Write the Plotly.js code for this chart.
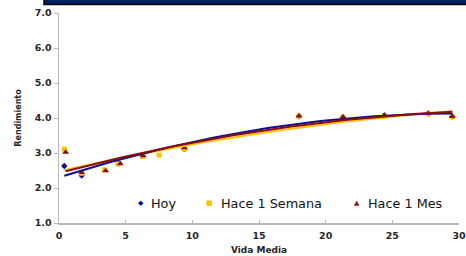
<!DOCTYPE html>
<html><head><meta charset="utf-8">
<script src="https://cdn.plot.ly/plotly-3.0.1.min.js"></script>
<style>body{margin:0;background:#fff}#c{width:466px;height:256px}</style>
</head><body><div id="c"></div>
<script>
const seriesNames = ['Hoy', 'Hace 1 Semana', 'Hace 1 Mes'];
const hoyX = [0.4, 1.7, 4.5, 6.3, 9.4, 18.0, 21.3, 24.4, 27.7, 29.5];
const hoyY = [2.63, 2.36, 2.71, 2.92, 3.12, 4.05, 4.02, 4.07, 4.13, 4.04];
const semanaX = [0.4, 1.7, 3.4, 4.4, 6.3, 7.5, 9.4, 18.0, 21.3, 24.4, 27.7, 29.5];
const semanaY = [3.11, 2.42, 2.52, 2.69, 2.90, 2.94, 3.11, 4.05, 4.02, 4.05, 4.12, 4.03];
const mesX = [0.5, 1.7, 3.5, 4.6, 6.3, 9.4, 18.0, 21.3, 24.4, 27.7, 29.5];
const mesY = [3.02, 2.44, 2.49, 2.69, 2.92, 3.15, 4.06, 4.03, 4.08, 4.13, 4.04];
const yTicks = [1, 2, 3, 4, 5, 6, 7];
const xTicks = [0, 5, 10, 15, 20, 25, 30];

// quadratic least-squares trendline (spreadsheet "polynomial, order 2")
function polyFit2(xs, ys) {
  let S = [0,0,0,0,0], T = [0,0,0];
  for (let i = 0; i < xs.length; i++) {
    let p = 1;
    for (let k = 0; k < 5; k++) { S[k] += p; if (k < 3) T[k] += p * ys[i]; p *= xs[i]; }
  }
  const A = [[S[0],S[1],S[2],T[0]],[S[1],S[2],S[3],T[1]],[S[2],S[3],S[4],T[2]]];
  for (let c = 0; c < 3; c++) {
    for (let r = c+1; r < 3; r++) { const f = A[r][c]/A[c][c]; for (let k = c; k < 4; k++) A[r][k] -= f*A[c][k]; }
  }
  const b = [0,0,0];
  for (let r = 2; r >= 0; r--) { let s = A[r][3]; for (let k = r+1; k < 3; k++) s -= A[r][k]*b[k]; b[r] = s/A[r][r]; }
  return b;
}
function trend(xs, ys) {
  const b = polyFit2(xs, ys);
  const x0 = Math.min(...xs), x1 = Math.max(...xs);
  const tx = [], ty = [];
  for (let i = 0; i <= 60; i++) { const x = x0 + (x1-x0)*i/60; tx.push(x); ty.push(b[0]+b[1]*x+b[2]*x*x); }
  return {x: tx, y: ty};
}

const cBlue = '#10108c', cYellow = '#ffc000', cRed = '#8b0d0d';
const tS = trend(semanaX, semanaY), tH = trend(hoyX, hoyY), tM = trend(mesX, mesY);
const data = [
  {x: hoyX, y: hoyY, name: seriesNames[0], mode: 'markers', marker: {symbol: 'diamond', size: 5, color: cBlue}, showlegend: false},
  {x: semanaX, y: semanaY, name: seriesNames[1], mode: 'markers', marker: {symbol: 'square', size: 5, color: cYellow}, showlegend: false},
  {x: mesX, y: mesY, name: seriesNames[2], mode: 'markers', marker: {symbol: 'triangle-up', size: 6, color: cRed}, showlegend: false},
  {x: tS.x, y: tS.y, mode: 'lines', line: {color: cYellow, width: 2}, showlegend: false, hoverinfo: 'skip'},
  {x: tH.x, y: tH.y, mode: 'lines', line: {color: cBlue, width: 2}, showlegend: false, hoverinfo: 'skip'},
  {x: tM.x, y: tM.y, mode: 'lines', line: {color: cRed, width: 2}, showlegend: false, hoverinfo: 'skip'}
];

// legend drawn as text (glyph + label)
const legGlyphs = ['\u25C6', '\u25A0', '\u25B2'];
const legColors = [cBlue, cYellow, cRed];
const legMarkX = [0.205, 0.375, 0.745];
const legTextX = [0.225, 0.4, 0.767];
const legY = 0.095;
const annotations = [];
for (let i = 0; i < 3; i++) {
  annotations.push({xref: 'paper', yref: 'paper', x: legMarkX[i], y: legY, xanchor: 'center', yanchor: 'middle',
    text: legGlyphs[i], showarrow: false, font: {family: 'DejaVu Sans', size: 7, color: legColors[i]}});
  annotations.push({xref: 'paper', yref: 'paper', x: legTextX[i], y: legY, xanchor: 'left', yanchor: 'middle',
    text: seriesNames[i], showarrow: false, font: {family: 'DejaVu Sans', size: 12.8, color: '#111'}});
}

const tickFont = {family: 'DejaVu Sans', size: 9.5, color: '#262626', weight: 'bold'};
const layout = {
  width: 466, height: 256,
  margin: {l: 59, r: 7, t: 13, b: 33},
  paper_bgcolor: '#fff', plot_bgcolor: '#fff',
  showlegend: false,
  xaxis: {range: [0, 30], tickvals: xTicks, ticktext: xTicks.map(String), showgrid: false, zeroline: false,
          showline: true, linecolor: '#b8b8b8', linewidth: 1.5, ticks: 'inside', ticklen: 3, tickcolor: '#b8b8b8',
          ticklabelstandoff: 3,
          tickfont: tickFont, title: {text: 'Vida Media', font: {family: 'DejaVu Sans', size: 9, color: '#262626', weight: 'bold'}, standoff: 7}},
  yaxis: {range: [1, 7], tickvals: yTicks, ticktext: yTicks.map(v => v.toFixed(1)), showgrid: false, zeroline: false,
          showline: true, linecolor: '#b8b8b8', linewidth: 1.5, ticks: 'outside', ticklen: 4, tickcolor: '#b8b8b8',
          tickfont: tickFont, title: {text: 'Rendimiento', font: {family: 'DejaVu Sans', size: 8, color: '#262626', weight: 'bold'}, standoff: 12}},
  annotations: annotations,
  shapes: [
    {type: 'rect', xref: 'paper', yref: 'paper', x0: -0.0375, x1: 1.03, y0: 1.041, y1: 1.10,
     fillcolor: '#002060', line: {color: '#000', width: 1.5}}
  ]
};
Plotly.newPlot('c', data, layout, {displayModeBar: false, staticPlot: true});
</script></body></html>
